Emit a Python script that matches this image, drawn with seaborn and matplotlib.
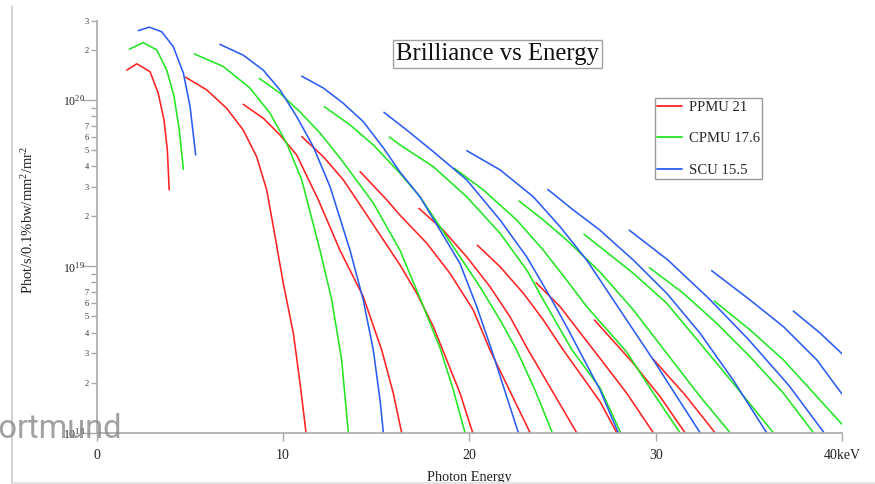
import matplotlib
matplotlib.use("Agg")
import matplotlib.pyplot as plt
from matplotlib.lines import Line2D
from matplotlib.ticker import FixedLocator, FixedFormatter
import pandas as pd
import seaborn as sns

# ---------------------------------------------------------------- data
SOURCES = ["PPMU 21", "CPMU 17.6", "SCU 15.5"]
COLORS = ["#ff2222", "#22e622", "#2b5cf2"]

# Photon energy (keV) and brilliance (ph/s/0.1%bw/mm^2/mrad^2) per odd harmonic

# PPMU 21
PPMU_H1_E = [1.61, 2.15, 2.86, 3.30, 3.61, 3.79, 3.89]
PPMU_H1_B = [1.51e20, 1.65e20, 1.48e20, 1.10e20, 7.58e19, 5.00e19, 2.88e19]
PPMU_H3_E = [4.77, 5.90, 6.97, 7.86, 8.58, 9.12, 9.51, 10.01, 10.55, 10.91, 11.23]
PPMU_H3_B = [1.37e20, 1.15e20, 8.92e19, 6.60e19, 4.56e19, 2.88e19, 1.65e19, 7.91e18, 3.96e18, 1.98e18, 1.0e18]
PPMU_H5_E = [7.86, 8.94, 9.83, 10.73, 11.89, 13.05, 14.30, 15.29, 15.91, 16.36]
PPMU_H5_B = [9.42e19, 7.76e19, 6.16e19, 4.67e19, 2.51e19, 1.25e19, 6.57e18, 3.14e18, 1.73e18, 1.0e18]
PPMU_H7_E = [11.00, 12.16, 13.23, 13.95, 16.27, 17.17, 18.06, 19.49, 20.17]
PPMU_H7_B = [6.02e19, 4.56e19, 3.31e19, 2.51e19, 1.02e19, 6.89e18, 4.34e18, 1.73e18, 1.0e18]
PPMU_H9_E = [14.13, 15.56, 16.27, 17.70, 18.95, 20.20, 21.10, 23.25]
PPMU_H9_B = [3.71e19, 2.51e19, 2.03e19, 1.38e19, 9.08e18, 5.47e18, 3.14e18, 1.0e18]
PPMU_H11_E = [17.29, 18.59, 19.85, 21.10, 22.17, 23.15, 25.75]
PPMU_H11_B = [2.23e19, 1.65e19, 1.14e19, 7.54e18, 4.98e18, 3.14e18, 1.0e18]
PPMU_H13_E = [20.42, 21.64, 22.89, 23.96, 25.03, 27.00, 27.90]
PPMU_H13_B = [1.34e19, 9.95e18, 6.89e18, 4.76e18, 3.14e18, 1.54e18, 1.0e18]
PPMU_H15_E = [23.57, 24.86, 26.10, 27.00, 28.43, 29.86]
PPMU_H15_B = [7.98e18, 5.72e18, 3.78e18, 2.80e18, 1.73e18, 1.0e18]
PPMU_H17_E = [26.70, 28.79, 30.22, 31.56]
PPMU_H17_B = [4.76e18, 2.61e18, 1.65e18, 1.0e18]
PPMU_H19_E = [29.86, 31.56, 33.17]
PPMU_H19_B = [2.76e18, 1.69e18, 1.0e18]

# CPMU 17.6
CPMU_H1_E = [1.75, 2.50, 3.22, 3.76, 4.15, 4.43, 4.65]
CPMU_H1_B = [2.02e20, 2.21e20, 2.00e20, 1.51e20, 1.05e20, 6.60e19, 3.83e19]
CPMU_H3_E = [5.24, 6.79, 8.22, 9.30, 10.19, 11.00, 11.98, 12.61, 13.14, 13.50]
CPMU_H3_B = [1.89e20, 1.59e20, 1.18e20, 8.32e19, 5.49e19, 3.31e19, 1.25e19, 6.28e18, 2.74e18, 1.0e18]
CPMU_H5_E = [8.72, 9.83, 10.91, 11.98, 13.05, 14.13, 14.84, 16.27, 17.34, 18.42, 19.13, 19.76]
CPMU_H5_B = [1.35e20, 1.10e20, 8.47e19, 6.33e19, 4.48e19, 3.08e19, 2.40e19, 1.25e19, 6.45e18, 3.23e18, 1.81e18, 1.0e18]
CPMU_H7_E = [12.21, 13.59, 14.84, 16.27, 17.34, 18.42, 19.49, 20.56, 21.64, 22.53, 23.51, 24.44]
CPMU_H7_B = [9.12e19, 7.08e19, 5.37e19, 3.63e19, 2.62e19, 1.73e19, 1.14e19, 7.54e18, 4.76e18, 3.14e18, 1.81e18, 1.0e18]
CPMU_H9_E = [15.70, 16.27, 18.06, 19.85, 21.64, 23.07, 23.96, 25.50, 27.00, 28.11]
CPMU_H9_B = [5.99e19, 5.37e19, 3.97e19, 2.62e19, 1.58e19, 9.51e18, 6.28e18, 3.14e18, 1.86e18, 1.0e18]
CPMU_H11_E = [19.18, 20.74, 22.53, 23.96, 25.21, 26.29, 28.43, 29.86, 31.29]
CPMU_H11_B = [3.89e19, 2.88e19, 1.90e19, 1.25e19, 8.28e18, 5.72e18, 3.06e18, 1.73e18, 1.0e18]
CPMU_H13_E = [22.66, 23.96, 25.21, 27.00, 28.79, 30.58, 32.37, 33.98]
CPMU_H13_B = [2.47e19, 1.90e19, 1.44e19, 9.25e18, 5.47e18, 3.00e18, 1.65e18, 1.0e18]
CPMU_H15_E = [26.14, 27.00, 28.79, 30.58, 32.37, 34.15, 36.30]
CPMU_H15_B = [1.56e19, 1.31e19, 9.08e18, 6.00e18, 3.45e18, 1.98e18, 1.0e18]
CPMU_H17_E = [29.65, 31.47, 33.26, 35.05, 36.84, 38.45]
CPMU_H17_B = [9.82e18, 6.89e18, 4.55e18, 2.86e18, 1.73e18, 1.0e18]
CPMU_H19_E = [33.13, 35.05, 36.84, 38.63, 40.0]
CPMU_H19_B = [6.19e18, 4.15e18, 2.74e18, 1.65e18, 1.12e18]

# SCU 15.5
SCU_H1_E = [2.23, 2.82, 3.49, 4.11, 4.65, 5.01, 5.31]
SCU_H1_B = [2.61e20, 2.74e20, 2.57e20, 2.09e20, 1.45e20, 9.12e19, 4.67e19]
SCU_H3_E = [6.61, 7.86, 8.94, 9.83, 10.73, 11.62, 12.52, 13.59, 14.30, 14.84, 15.20, 15.38]
SCU_H3_B = [2.16e20, 1.86e20, 1.51e20, 1.15e20, 7.94e19, 5.24e19, 3.01e19, 1.25e19, 6.28e18, 3.14e18, 1.57e18, 1.0e18]
SCU_H5_E = [11.00, 12.16, 13.23, 14.30, 15.38, 16.27, 17.34, 18.42, 19.49, 20.39, 21.19, 22.62]
SCU_H5_B = [1.39e20, 1.18e20, 9.55e19, 7.41e19, 5.15e19, 3.69e19, 2.62e19, 1.65e19, 1.04e19, 5.72e18, 3.14e18, 1.0e18]
SCU_H7_E = [15.41, 16.63, 18.06, 19.85, 21.64, 23.07, 24.32, 25.21, 27.00, 27.98]
SCU_H7_B = [8.43e19, 6.60e19, 4.89e19, 3.31e19, 1.90e19, 1.14e19, 6.57e18, 4.34e18, 1.81e18, 1.0e18]
SCU_H9_E = [19.85, 21.64, 23.42, 24.86, 26.29, 27.00, 28.43, 29.86, 31.12, 32.37]
SCU_H9_B = [4.96e19, 3.80e19, 2.62e19, 1.73e19, 1.09e19, 8.28e18, 4.76e18, 2.74e18, 1.65e18, 1.0e18]
SCU_H11_E = [24.20, 25.57, 27.00, 28.79, 30.58, 32.37, 34.15, 35.94]
SCU_H11_B = [2.90e19, 2.18e19, 1.65e19, 1.09e19, 6.89e18, 3.96e18, 2.07e18, 1.0e18]
SCU_H13_E = [28.57, 30.65, 32.85, 34.94, 37.14, 39.02]
SCU_H13_B = [1.65e19, 1.09e19, 6.39e18, 3.66e18, 1.92e18, 1.0e18]
SCU_H15_E = [32.99, 35.05, 36.84, 38.63, 40.0]
SCU_H15_B = [9.42e18, 6.28e18, 4.34e18, 2.74e18, 1.70e18]
SCU_H17_E = [37.37, 38.80, 40.0]
SCU_H17_B = [5.39e18, 3.98e18, 2.97e18]

X_TICKS = [0, 10, 20, 30, 40]
X_TICK_LABELS = ["0", "10", "20", "30", "40keV"]
Y_MAJOR = [1e18, 1e19, 1e20]
Y_MAJOR_LABELS = [r"$\mathregular{10^{18}}$", r"$\mathregular{10^{19}}$", r"$\mathregular{10^{20}}$"]
Y_MINOR_MANT = [2, 3, 4, 5, 6, 7, 8, 9]
Y_MINOR_SHOWN = ["2", "3", "4", "5", "6", "7", "", ""]

CURVES = {
    "PPMU 21": [(1, PPMU_H1_E, PPMU_H1_B), (3, PPMU_H3_E, PPMU_H3_B), (5, PPMU_H5_E, PPMU_H5_B),
                (7, PPMU_H7_E, PPMU_H7_B), (9, PPMU_H9_E, PPMU_H9_B), (11, PPMU_H11_E, PPMU_H11_B),
                (13, PPMU_H13_E, PPMU_H13_B), (15, PPMU_H15_E, PPMU_H15_B), (17, PPMU_H17_E, PPMU_H17_B),
                (19, PPMU_H19_E, PPMU_H19_B)],
    "CPMU 17.6": [(1, CPMU_H1_E, CPMU_H1_B), (3, CPMU_H3_E, CPMU_H3_B), (5, CPMU_H5_E, CPMU_H5_B),
                  (7, CPMU_H7_E, CPMU_H7_B), (9, CPMU_H9_E, CPMU_H9_B), (11, CPMU_H11_E, CPMU_H11_B),
                  (13, CPMU_H13_E, CPMU_H13_B), (15, CPMU_H15_E, CPMU_H15_B), (17, CPMU_H17_E, CPMU_H17_B),
                  (19, CPMU_H19_E, CPMU_H19_B)],
    "SCU 15.5": [(1, SCU_H1_E, SCU_H1_B), (3, SCU_H3_E, SCU_H3_B), (5, SCU_H5_E, SCU_H5_B),
                 (7, SCU_H7_E, SCU_H7_B), (9, SCU_H9_E, SCU_H9_B), (11, SCU_H11_E, SCU_H11_B),
                 (13, SCU_H13_E, SCU_H13_B), (15, SCU_H15_E, SCU_H15_B), (17, SCU_H17_E, SCU_H17_B)],
}

rows = []
for src, harmonics in CURVES.items():
    for n, energies, brill in harmonics:
        for e, b in zip(energies, brill):
            rows.append({"source": src, "curve": f"{src} H{n}", "energy": e, "brilliance": b})
df = pd.DataFrame(rows)

# ---------------------------------------------------------------- style
sns.set_theme(style="white")
plt.rcParams["font.family"] = ["Liberation Serif", "DejaVu Serif"]
plt.rcParams["mathtext.fontset"] = "custom"
plt.rcParams["mathtext.rm"] = "Liberation Serif"

W, H = 875, 484
fig = plt.figure(figsize=(W / 100, H / 100), dpi=100)
ax = fig.add_axes([96.7 / W, (H - 432.7) / H, 745.6 / W, 412.1 / H])
ax.set_yscale("log")

sns.lineplot(data=df, x="energy", y="brilliance", hue="source", hue_order=SOURCES,
             units="curve", estimator=None, sort=False,
             palette=dict(zip(SOURCES, COLORS)), linewidth=1.15, ax=ax)

ax.set_xlim(0, 40)
ax.set_ylim(1e18, 3e20)

axis_grey = "#a9a9a9"
for side in ("top", "right"):
    ax.spines[side].set_visible(False)
for side in ("left", "bottom"):
    ax.spines[side].set_color(axis_grey)
    ax.spines[side].set_linewidth(1.2)

# x axis
ax.set_xticks(X_TICKS)
ax.set_xticklabels(X_TICK_LABELS)
ax.tick_params(axis="x", which="major", bottom=True, top=False, direction="out",
               length=5.8, width=1.0, color=axis_grey, pad=6.0, labelsize=10,
               labelcolor="#222222")
ax.set_xlabel("Photon Energy", fontsize=10.3, color="#222222")
ax.xaxis.set_label_coords(0.5, -0.093)

# y axis: decades and labelled minor ticks
minor_pos, minor_lab = [], []
for dec in (1e18, 1e19, 1e20):
    for m, lab in zip(Y_MINOR_MANT, Y_MINOR_SHOWN):
        v = m * dec
        if v <= 3e20 * 1.0001:
            minor_pos.append(v)
            minor_lab.append(lab)
ax.yaxis.set_major_locator(FixedLocator(Y_MAJOR))
ax.yaxis.set_major_formatter(FixedFormatter(Y_MAJOR_LABELS))
ax.yaxis.set_minor_locator(FixedLocator(minor_pos))
ax.yaxis.set_minor_formatter(FixedFormatter(minor_lab))
ax.tick_params(axis="y", which="major", left=True, right=False, direction="out",
               length=10.8, width=1.0, color=axis_grey, pad=-2.4, labelsize=8.6,
               labelcolor="#222222")
ax.tick_params(axis="y", which="minor", left=True, right=False, direction="out",
               length=4.3, width=1.0, color=axis_grey, pad=1.2, labelsize=6,
               labelcolor="#333333")
ax.set_ylabel(r"Phot/s/0.1%bw/mm$\mathregular{^{2}}$/mr$\mathregular{^{2}}$",
              fontsize=10.5, color="#222222")
ax.yaxis.set_label_coords(-0.0814, 0.516)

# legend
old = ax.get_legend()
if old is not None:
    old.remove()
handles = [Line2D([0], [0], color=c, lw=1.3) for c in COLORS]
leg = ax.legend(handles, SOURCES, loc="upper left",
                bbox_to_anchor=(655 / W, 1 - 98.3 / H), bbox_transform=fig.transFigure,
                frameon=True, fancybox=False, shadow=False, borderaxespad=0,
                borderpad=0.15, handlelength=1.7, handletextpad=0.45, labelspacing=1.24,
                prop={"family": "Liberation Serif", "size": 10.6})
leg.get_frame().set_edgecolor("#9a9a9a")
leg.get_frame().set_linewidth(1.0)
leg.get_frame().set_alpha(None)

# title box
fig.text(497.2 / W, 1 - 53.7 / H, "Brilliance vs Energy", ha="center", va="center",
         fontsize=17.8, color="#111111",
         bbox=dict(boxstyle="square,pad=0.12", fc="white", ec="#a0a0a0", lw=1.0))

# slide frame line on the left and bottom edge
fig.add_artist(Line2D([12.3 / W, 12.3 / W], [1 - 6 / H, 0], transform=fig.transFigure,
                      color="#c4c4c4", lw=1.1))
fig.add_artist(Line2D([12.3 / W, 1], [1.2 / H, 1.2 / H], transform=fig.transFigure,
                      color="#e4e4e4", lw=1.5))

# logo text in the lower left corner
fig.text(-23 / W, 1 - 438 / H, "Dortmund", ha="left", va="baseline",
         fontsize=23.5, family="Roboto", color="#8a8a8a", alpha=0.8, zorder=10)

fig.savefig("out.png", dpi=100)
